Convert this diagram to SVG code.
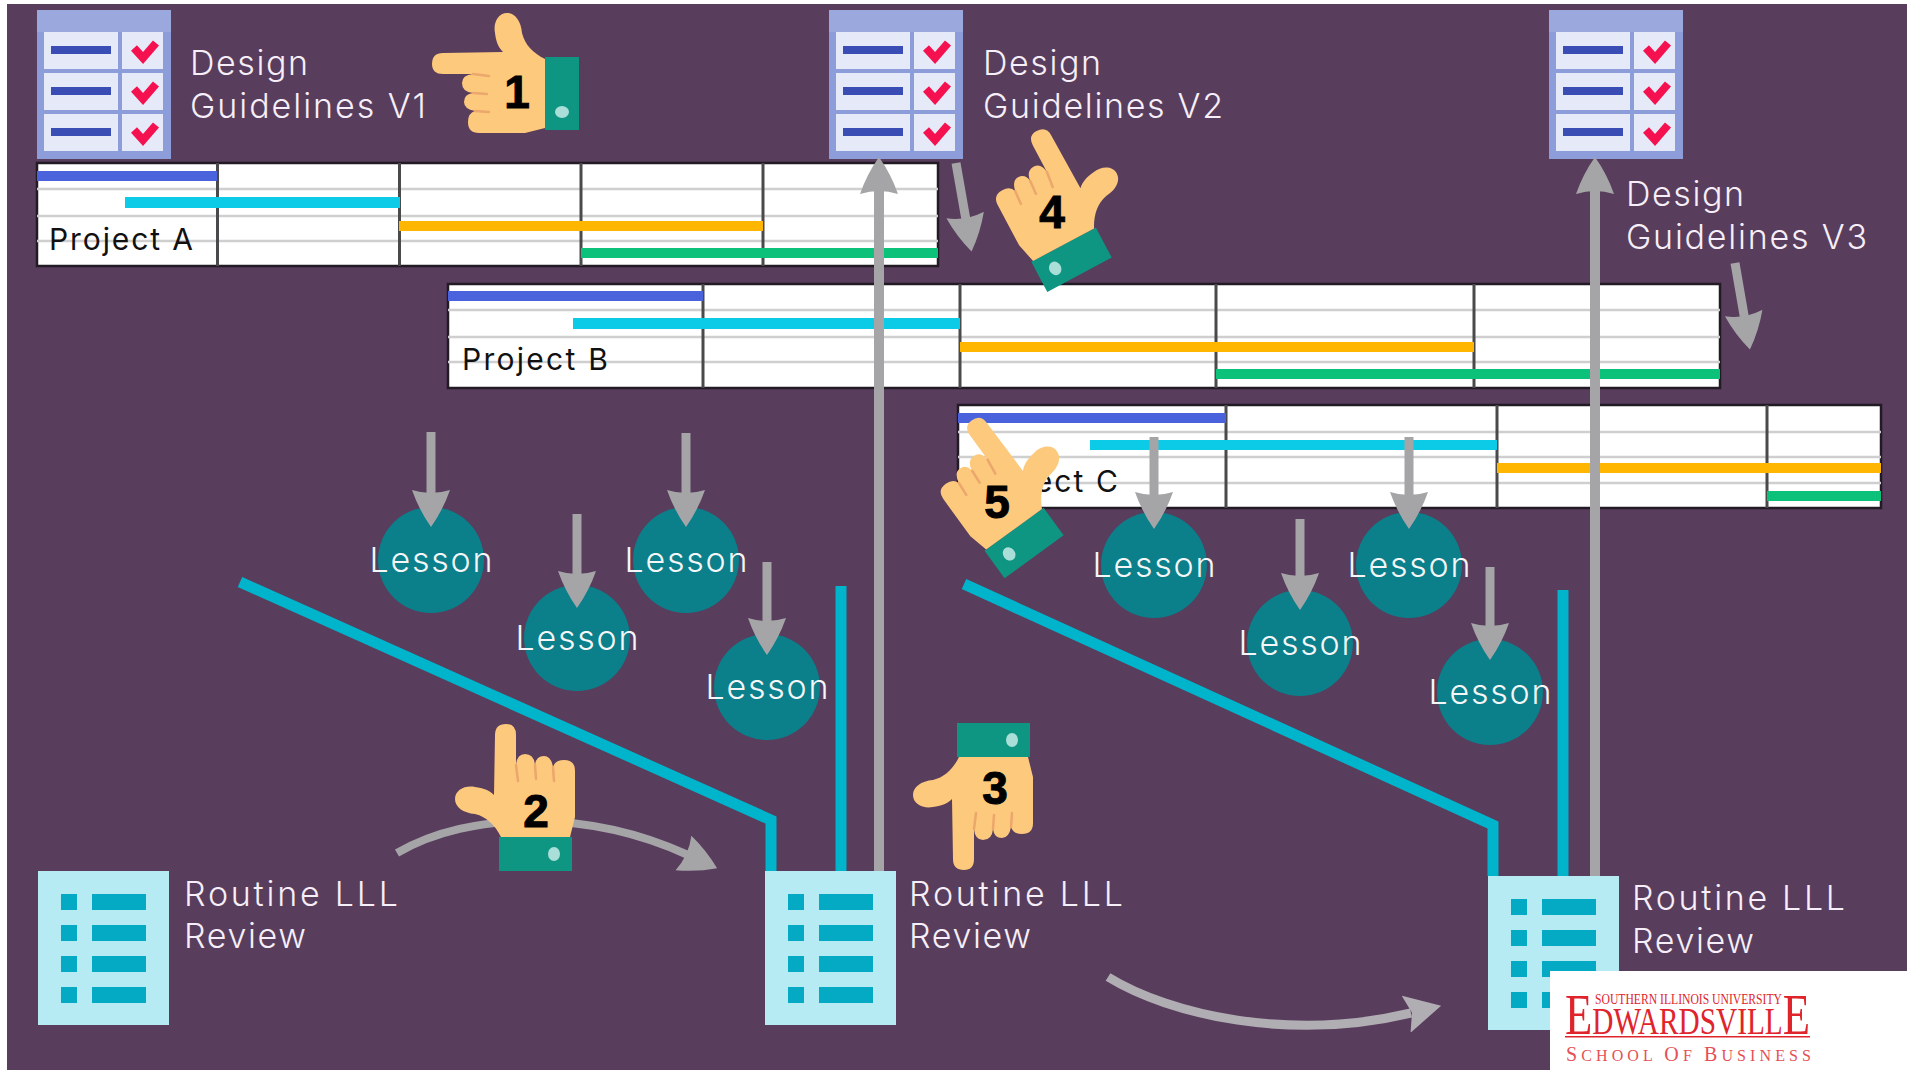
<svg xmlns="http://www.w3.org/2000/svg" width="1913" height="1070" viewBox="0 0 1913 1070">
<style>
.lbl{font-family:"Inter","Liberation Sans",sans-serif;font-weight:350;font-size:34px;fill:#f6eef8}
.prj{font-family:"Inter","Liberation Sans",sans-serif;font-weight:400;font-size:30px;fill:#111}
.les{font-family:"Inter","Liberation Sans",sans-serif;font-weight:350;font-size:34px;fill:#f4f6f8;text-anchor:middle}
.num{font-family:"Liberation Sans",Arial,sans-serif;font-weight:700;font-size:46px;fill:#000;text-anchor:middle;stroke:#000;stroke-width:1}
.gframe{fill:#fff;stroke:#221b24;stroke-width:2.5}
.gh{stroke:#cfcfcf;stroke-width:2.5}
.gv{stroke:#4a4a4c;stroke-width:3}
.blue{fill:#4a62dc}.cyan{fill:#0ccbe6}.orange{fill:#ffb600}.green{fill:#0cc27a}
.circle{fill:#0b7f8a}
.arrow{fill:none;stroke:#a5a5a8;stroke-width:9;marker-end:url(#head)}
.big{fill:none;stroke:#a5a5a8;stroke-width:10;marker-end:url(#head)}
.curve{fill:none;stroke:#a5a5a8;stroke-width:8;marker-end:url(#head)}
.curve2{fill:none;stroke:#b0adb3;stroke-width:9;marker-end:url(#head2)}
.teal{fill:none;stroke:#00b4cb;stroke-width:11}
.rv{fill:#b6ebf3}.rb{fill:#04a9c4}
.skin{fill:#fdc97c}.crease{fill:none;stroke:#eba76c;stroke-width:2.5;stroke-linecap:round}
.cuff{fill:#0e9683}.dot{fill:#a9dfd8}
.red{font-family:"Liberation Serif","Times New Roman",serif;fill:#e0242c}
</style>
<defs>
<marker id="head" markerUnits="userSpaceOnUse" markerWidth="38" markerHeight="40" refX="5" refY="20" orient="auto" viewBox="0 0 38 40">
<path d="M0,1 Q20,8 37,20 Q20,32 0,39 Q6,20 0,1Z" fill="#a5a5a8"/>
</marker>
<marker id="head2" markerUnits="userSpaceOnUse" markerWidth="38" markerHeight="40" refX="5" refY="20" orient="auto" viewBox="0 0 38 40">
<path d="M0,1 L36,20 L0,39 L6,20Z" fill="#b0adb3"/>
</marker>
<g id="check-icon">
<rect x="0" y="0" width="134" height="149" fill="#8d9dd9"/>
<rect x="0" y="0" width="134" height="22" fill="#9aa8de"/>
<g fill="#e6eaf8">
<rect x="7" y="22" width="74" height="37"/><rect x="85" y="22" width="41" height="37"/>
<rect x="7" y="63" width="74" height="37"/><rect x="85" y="63" width="41" height="37"/>
<rect x="7" y="104" width="74" height="37"/><rect x="85" y="104" width="41" height="37"/>
</g>
<g fill="#3a4db4">
<rect x="14" y="36" width="60" height="8"/><rect x="14" y="77" width="60" height="8"/><rect x="14" y="118" width="60" height="8"/>
</g>
<g fill="none" stroke="#f5104f" stroke-width="8">
<path d="M97,38 L106,48 L119,33"/><path d="M97,79 L106,89 L119,74"/><path d="M97,120 L106,130 L119,115"/>
</g>
</g>
<g id="list-icon">
<rect class="rv" x="0" y="0" width="131" height="154"/>
<g class="rb">
<rect x="23" y="23" width="16" height="16"/><rect x="54" y="23" width="54" height="16"/>
<rect x="23" y="54" width="16" height="16"/><rect x="54" y="54" width="54" height="16"/>
<rect x="23" y="85" width="16" height="16"/><rect x="54" y="85" width="54" height="16"/>
<rect x="23" y="116" width="16" height="16"/><rect x="54" y="116" width="54" height="16"/>
</g>
</g>
<g id="hand">
<rect class="cuff" x="-36" y="0" width="73" height="34"/>
<ellipse class="dot" cx="19" cy="17" rx="6" ry="7"/>
<path class="skin" d="M-34,0 C-40,-12 -48,-20 -60,-23 C-72,-24 -80,-30 -80,-38 C-80,-47 -70,-52 -60,-50 C-52,-49 -46,-47 -41,-42 L-40,-102 Q-40,-113 -29,-113 Q-19,-113 -19,-102 L-19,-72 Q-18,-83 -10,-83 Q-1,-83 0,-72 Q1,-81 9,-81 Q16,-81 18,-70 Q20,-77 29,-77 Q40,-77 40,-66 L40,-20 L35,0 Z"/>
<path class="crease" d="M-19,-72 L-17,-56 M0,-72 L1,-58 M18,-70 L19,-56"/>
</g>
</defs>

<rect x="0" y="0" width="1913" height="1070" fill="#fff"/>
<rect id="background" x="7" y="4" width="1900" height="1066" fill="#583d5c"/>

<g id="gantt-a">
<rect class="gframe" x="37" y="163" width="901" height="103"/>
<path class="gh" d="M37,189H938M37,216H938M37,241H938"/>
<path class="gv" d="M217.500,163V266M399.500,163V266M581,163V266M763,163V266"/>
<rect class="blue" x="37" y="171" width="180" height="10"/>
<rect class="cyan" x="125" y="197" width="275" height="11"/>
<rect class="orange" x="399" y="221" width="364" height="10"/>
<rect class="green" x="581" y="248" width="357" height="10"/>
<text class="prj" x="49" y="250" textLength="144" lengthAdjust="spacing">Project A</text>
</g>
<g id="gantt-b">
<rect class="gframe" x="448" y="284" width="1272" height="104"/>
<path class="gh" d="M448,310H1720M448,337H1720M448,362H1720"/>
<path class="gv" d="M703,284V388M960,284V388M1216,284V388M1474,284V388"/>
<rect class="blue" x="448" y="291" width="255" height="10"/>
<rect class="cyan" x="573" y="318" width="387" height="11"/>
<rect class="orange" x="960" y="342" width="514" height="10"/>
<rect class="green" x="1216" y="369" width="504" height="10"/>
<text class="prj" x="462" y="370" textLength="146" lengthAdjust="spacing">Project B</text>
</g>
<g id="gantt-c">
<rect class="gframe" x="958" y="405" width="923" height="103"/>
<path class="gh" d="M958,432H1881M958,457H1881M958,483H1881"/>
<path class="gv" d="M1226,405V508M1497,405V508M1767,405V508"/>
<rect class="blue" x="958" y="413" width="268" height="10"/>
<rect class="cyan" x="1090" y="440" width="407" height="10"/>
<rect class="orange" x="1497" y="463" width="384" height="10"/>
<rect class="green" x="1767" y="491" width="114" height="10"/>
<text class="prj" x="971" y="492" textLength="147" lengthAdjust="spacing">Project C</text>
</g>

<g id="guidelines-v1">
<use href="#check-icon" x="37" y="10"/>
<text class="lbl"><tspan x="190" y="75" textLength="118" lengthAdjust="spacing">Design</tspan><tspan x="190" y="118" textLength="236" lengthAdjust="spacing">Guidelines V1</tspan></text>
</g>
<g id="guidelines-v2">
<use href="#check-icon" x="829" y="10"/>
<text class="lbl"><tspan x="983" y="75" textLength="118" lengthAdjust="spacing">Design</tspan><tspan x="983" y="118" textLength="240" lengthAdjust="spacing">Guidelines V2</tspan></text>
</g>
<g id="guidelines-v3">
<use href="#check-icon" x="1549" y="10"/>
<text class="lbl"><tspan x="1626" y="206" textLength="118" lengthAdjust="spacing">Design</tspan><tspan x="1626" y="249" textLength="241" lengthAdjust="spacing">Guidelines V3</tspan></text>
</g>

<g id="lesson-1"><circle class="circle" cx="431" cy="560" r="53"/><text class="les" x="431" y="572" textLength="123" lengthAdjust="spacing">Lesson</text></g>
<g id="lesson-2"><circle class="circle" cx="577" cy="638" r="53"/><text class="les" x="577" y="650" textLength="123" lengthAdjust="spacing">Lesson</text></g>
<g id="lesson-3"><circle class="circle" cx="686" cy="560" r="53"/><text class="les" x="686" y="572" textLength="123" lengthAdjust="spacing">Lesson</text></g>
<g id="lesson-4"><circle class="circle" cx="767" cy="687" r="53"/><text class="les" x="767" y="699" textLength="123" lengthAdjust="spacing">Lesson</text></g>
<g id="lesson-5"><circle class="circle" cx="1154" cy="565" r="53"/><text class="les" x="1154" y="577" textLength="123" lengthAdjust="spacing">Lesson</text></g>
<g id="lesson-6"><circle class="circle" cx="1300" cy="643" r="53"/><text class="les" x="1300" y="655" textLength="123" lengthAdjust="spacing">Lesson</text></g>
<g id="lesson-7"><circle class="circle" cx="1409" cy="565" r="53"/><text class="les" x="1409" y="577" textLength="123" lengthAdjust="spacing">Lesson</text></g>
<g id="lesson-8"><circle class="circle" cx="1490" cy="692" r="53"/><text class="les" x="1490" y="704" textLength="123" lengthAdjust="spacing">Lesson</text></g>

<g id="routine-1"><use href="#list-icon" x="38" y="871"/>
<text class="lbl"><tspan x="184" y="906" textLength="214" lengthAdjust="spacing">Routine LLL</tspan><tspan x="184" y="948" textLength="122" lengthAdjust="spacing">Review</tspan></text></g>
<g id="routine-2"><use href="#list-icon" x="765" y="871"/>
<text class="lbl"><tspan x="909" y="906" textLength="214" lengthAdjust="spacing">Routine LLL</tspan><tspan x="909" y="948" textLength="122" lengthAdjust="spacing">Review</tspan></text></g>
<g id="routine-3"><use href="#list-icon" x="1488" y="876"/>
<text class="lbl"><tspan x="1632" y="910" textLength="213" lengthAdjust="spacing">Routine LLL</tspan><tspan x="1632" y="953" textLength="122" lengthAdjust="spacing">Review</tspan></text></g>

<g id="connectors">
<path class="teal" d="M240,582 L771,820 V871"/>
<path class="teal" d="M841,586 V871"/>
<path class="teal" d="M964,584 L1493,825 V876"/>
<path class="teal" d="M1563,590 V876"/>
<path class="big" d="M879,871 V189"/>
<path class="big" d="M1595,876 V189"/>
<path class="arrow" d="M956,163 L966,220"/>
<path class="arrow" d="M1735,263 L1744.500,318"/>
<path class="arrow" d="M431,432 V495"/>
<path class="arrow" d="M577,514 V576"/>
<path class="arrow" d="M686,433 V495"/>
<path class="arrow" d="M767,562 V623"/>
<path class="arrow" d="M1154,437 V497"/>
<path class="arrow" d="M1300,519 V578"/>
<path class="arrow" d="M1409,437 V497"/>
<path class="arrow" d="M1490,567 V628"/>
<path class="curve" d="M397,853 C470,810 590,810 688,855"/>
<path class="curve2" d="M1108,977 C1170,1015 1290,1042 1411,1013"/>
</g>

<g id="hand-1"><use href="#hand" transform="matrix(0,1,1,0,545,93)"/><text class="num" x="517" y="108">1</text></g>
<g id="hand-2"><use href="#hand" transform="translate(535,837)"/><text class="num" x="536" y="827">2</text></g>
<g id="hand-3"><use href="#hand" transform="translate(993,757) scale(1,-1)"/><text class="num" x="995" y="804">3</text></g>
<g id="hand-4"><use href="#hand" transform="translate(1064,244.500) rotate(-28) scale(-1,1)"/><text class="num" x="1052" y="228">4</text></g>
<g id="hand-5"><use href="#hand" transform="translate(1014.500,529) rotate(-36) scale(-1,1)"/><text class="num" x="997" y="518">5</text></g>

<g id="logo">
<rect x="1550" y="971" width="357" height="99" fill="#fff"/>
<text class="red" x="1595" y="1004" font-size="15" textLength="187" lengthAdjust="spacingAndGlyphs">SOUTHERN ILLINOIS UNIVERSITY</text>
<text class="red" x="1565" y="1034" font-size="38" textLength="245" lengthAdjust="spacingAndGlyphs"><tspan font-size="58">E</tspan>DWARDSVILL<tspan font-size="58">E</tspan></text>
<rect x="1565" y="1036" width="245" height="1.500" fill="#e0242c"/>
<text class="red" x="1566" y="1061" font-size="16" textLength="245" lengthAdjust="spacing" opacity="0.8"><tspan font-size="20">S</tspan>CHOOL <tspan font-size="20">O</tspan>F <tspan font-size="20">B</tspan>USINESS</text>
</g>
</svg>
